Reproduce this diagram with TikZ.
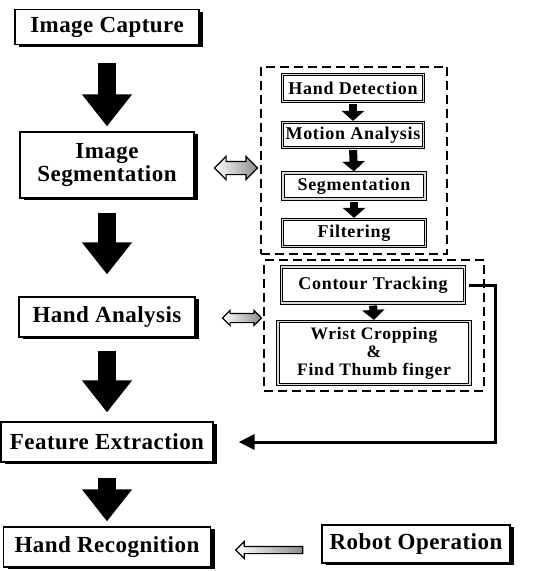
\documentclass[tikz,border=0pt]{standalone}
\usepackage{fontspec}
\setmainfont{Liberation Serif}
\usetikzlibrary{arrows.meta,shapes.arrows,shadows,fit}

\begin{document}
\begin{tikzpicture}[x=1pt, y=-1pt,
    mainbox/.style={draw, line width=1.2pt, fill=white, inner sep=0pt,
        font=\bfseries\fontsize{23}{23}\selectfont\addfontfeature{LetterSpace=2},
        drop shadow={shadow xshift=4pt, shadow yshift=-2pt, opacity=1, fill=black}},
    subbox/.style={draw, line width=1.2pt, double=gray!30, double distance=1.4pt, fill=white, inner sep=0pt,
        font=\bfseries\fontsize{18}{16}\selectfont\addfontfeature{LetterSpace=4}},
    bigarrow/.style={line width=18pt, -{Triangle[width=48pt,length=32pt]}},
    smallarrow/.style={line width=8pt, -{Triangle[width=22pt,length=10pt]}},
    group/.style={draw, line width=2pt, dash pattern=on 9pt off 5pt},
    hollow/.style={draw, line width=1.2pt, left color=white, right color=gray!90}]
    \useasboundingbox (0,0) rectangle (541,571);
    % Below nodes are the main steps.
        \node[mainbox, minimum width=184, minimum height=35] (cap) at (107,27) {Image Capture};
        \node[mainbox, minimum width=174, minimum height=66, align=center] (seg) at (107,165) {Image\\Segmentation};
        \node[mainbox, minimum width=176, minimum height=40] (ana) at (107,317) {Hand Analysis};
        \node[mainbox, minimum width=212, minimum height=40] (feat) at (107,442) {Feature Extraction};
        \node[mainbox, minimum width=207, minimum height=40] (rec) at (107,547) {Hand Recognition};
        \node[mainbox, minimum width=188, minimum height=38] (robot) at (416,544) {Robot Operation};
    % Sub steps of the segmentation.
        \node[subbox, minimum width=141, minimum height=27] (det) at (353,88) {Hand Detection};
        \node[subbox, minimum width=141, minimum height=25] (mot) at (353,135) {Motion Analysis};
        \node[subbox, minimum width=142, minimum height=26] (sgm) at (354,186) {Segmentation};
        \node[subbox, minimum width=143, minimum height=27] (filt) at (354,233) {Filtering};
        \node[group, fit=(det)(filt), inner xsep=21, inner ysep=7] (grp1) {};
    % Sub steps of the hand analysis.
        \node[subbox, minimum width=183, minimum height=36] (cont) at (373,285) {Contour Tracking};
        \node[subbox, minimum width=192, minimum height=63, align=center,
            font=\bfseries\fontsize{17.5}{18}\selectfont\addfontfeature{LetterSpace=4}] (wrist) at (374,353) {Wrist Cropping\\\&\\Find Thumb finger};
        \node[group, fit=(cont)(wrist), inner xsep=13, inner ysep=6] (grp2) {};
    % This draws the hollow arrows.
        \node[hollow, double arrow, minimum height=43, inner sep=6pt, double arrow head extend=5pt] (link1) at (236,168) {};
        \node[hollow, double arrow, minimum height=39, inner sep=4pt, double arrow head extend=3pt] (link2) at (242,318) {};
        \node[hollow, single arrow, shape border rotate=180, minimum height=67, inner sep=3pt, single arrow head extend=5pt] (link3) at (271,550) {};
    % Arrows between the steps.
        \draw[bigarrow, shorten <=18pt, shorten >=5pt] (cap.south) -- (seg.north);
        \draw[bigarrow, shorten <=14pt, shorten >=22pt] (seg.south) -- (ana.north);
        \draw[bigarrow, shorten <=13pt, shorten >=9pt] (ana.south) -- (feat.north);
        \draw[bigarrow, shorten <=15pt, shorten >=5pt] (feat.south) -- (rec.north);
        \draw[smallarrow, shorten <=2pt, shorten >=1pt] (det.south) -- (mot.north);
        \draw[smallarrow, shorten <=2pt, shorten >=1pt] (mot.south) -- (sgm.north);
        \draw[smallarrow, shorten <=2pt, shorten >=1pt] (sgm.south) -- (filt.north);
        \draw[smallarrow, shorten <=2pt, shorten >=1pt] (cont.south) -- (wrist.north);
        \draw[line width=3pt, -{Triangle[width=15pt,length=16pt]}, shorten >=25pt] ([xshift=4pt]cont.east) -- ++(26,0) |- (feat.east);
\end{tikzpicture}
\end{document}
